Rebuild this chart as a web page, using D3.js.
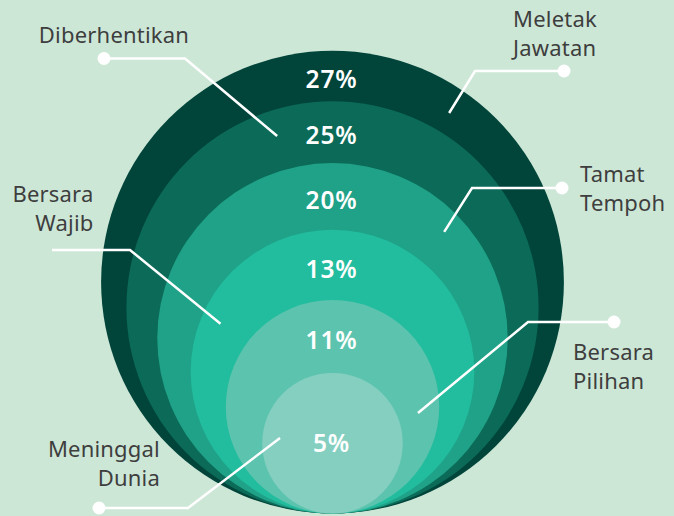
<!DOCTYPE html>
<html>
<head>
<meta charset="utf-8">
<script src="https://cdn.jsdelivr.net/npm/d3@7/dist/d3.min.js"></script>
<style>
	html, body { margin: 0; padding: 0; background: #cde7d7; }
	svg { display: block; }
</style>
</head>
<body>
<div id="chart"></div>
<script>
// rings, outermost first
var categories = ['Meletak Jawatan', 'Diberhentikan', 'Tamat Tempoh', 'Bersara Wajib', 'Bersara Pilihan', 'Meninggal Dunia'];
var values = [27, 25, 20, 13, 11, 5];
var valueLabels = values.map(function (v) { return v + '%'; });

var options = {
	width: 674,
	height: 516,
	cx: 332.5,
	baseY: 513.5,
	rOuter: 231.4,
	rInner: 70.25,
	colors: ['#01443a', '#0b6b58', '#1fa287', '#22bc9e', '#5cc4ae', '#85cfc1'],
	background: '#cde7d7',
	textColor: '#3e3e3e',
	fontFamily: '"Noto Sans", "Open Sans", sans-serif',
	lineHeight: 29,
	labelPos: 0.56
};

// where each callout sits: angle on its ring, inset from the edge, elbow, end, text position
var callouts = [
	{angle: -55.4, inset: 26, elbow: [475, 71], end: [564, 71], dot: true, text: [513, 27], anchor: 'start'},
	{angle: -107.9, inset: 26, elbow: [185, 58.5], end: [104, 58.5], dot: true, text: [114, 43], anchor: 'middle'},
	{angle: -43.6, inset: 21, elbow: [472, 188], end: [562, 188], dot: true, text: [580, 182], anchor: 'start'},
	{angle: -156.8, inset: 20, elbow: [130, 250], end: [52, 250], dot: false, text: [93.5, 202], anchor: 'end'},
	{angle: 4.2, inset: 21, elbow: [528, 322], end: [614, 322], dot: true, text: [573, 360], anchor: 'start'},
	{angle: -174.3, inset: 17.5, elbow: [188, 508], end: [99, 508], dot: true, text: [160, 457], anchor: 'end'}
];

var n = values.length;
var rScale = d3.scalePow().exponent(1.15)
	.domain([0, n - 1])
	.range([options.rOuter, options.rInner]);

var rings = values.map(function (v, i) {
	var r = rScale(i);
	return {name: categories[i], value: v, label: valueLabels[i], r: r, cy: options.baseY - r, top: options.baseY - 2 * r, i: i};
});

var svg = d3.select('#chart')
	.append('svg')
	.attr('width', options.width)
	.attr('height', options.height)
	.style('font-family', options.fontFamily);

svg.append('rect')
	.attr('width', options.width)
	.attr('height', options.height)
	.attr('fill', options.background);

svg.selectAll('circle.ring')
	.data(rings)
	.enter()
	.append('circle')
	.attr('class', 'ring')
	.attr('cx', options.cx)
	.attr('cy', function (d) { return d.cy; })
	.attr('r', function (d) { return d.r; })
	.attr('fill', function (d, i) { return options.colors[i]; });

svg.selectAll('text.value')
	.data(rings)
	.enter()
	.append('text')
	.attr('class', 'value')
	.attr('x', options.cx - 1)
	.attr('y', function (d, i) {
		var mid = i < n - 1 ? d.top + options.labelPos * (rings[i + 1].top - d.top) : d.cy;
		return mid + 8.5;
	})
	.attr('text-anchor', 'middle')
	.attr('fill', '#ffffff')
	.style('font-size', '24.5px')
	.style('font-weight', 600)
	.style('letter-spacing', '0.8px')
	.text(function (d) { return d.label; });

// callouts
var g = svg.append('g').attr('class', 'callouts');
rings.forEach(function (d, i) {
	var c = callouts[i];
	var a = c.angle * Math.PI / 180;
	var tip = [options.cx + (d.r - c.inset) * Math.cos(a), d.cy + (d.r - c.inset) * Math.sin(a)];

	g.append('path')
		.attr('d', d3.line()([tip, c.elbow, c.end]))
		.attr('fill', 'none')
		.attr('stroke', '#ffffff')
		.attr('stroke-width', 2.5);

	if (c.dot) {
		g.append('circle')
			.attr('cx', c.end[0])
			.attr('cy', c.end[1])
			.attr('r', 6.5)
			.attr('fill', '#ffffff');
	}

	var t = g.append('text')
		.attr('text-anchor', c.anchor)
		.attr('fill', options.textColor)
		.style('font-size', '22px')
		.style('letter-spacing', '0.2px');
	d.name.split(' ').forEach(function (word, k) {
		t.append('tspan')
			.attr('x', c.text[0])
			.attr('y', c.text[1] + k * options.lineHeight)
			.text(word);
	});
});
</script>
</body>
</html>
